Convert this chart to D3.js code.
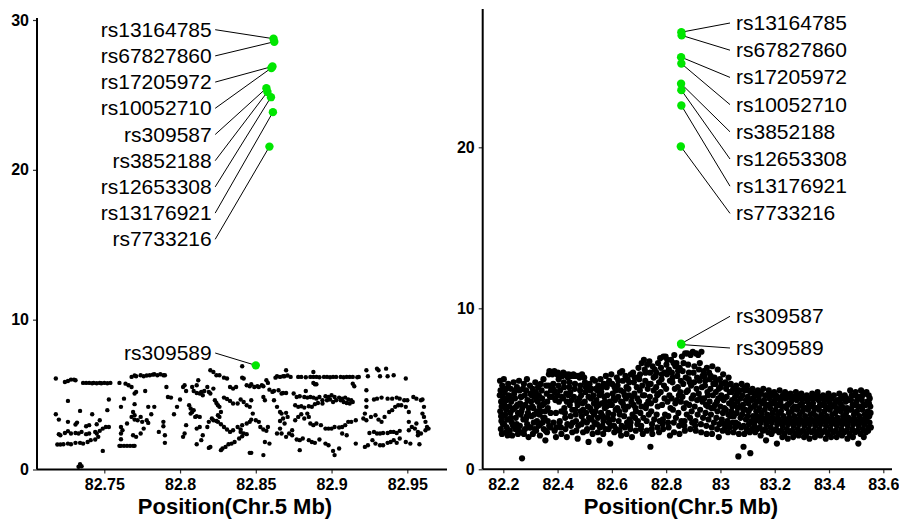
<!DOCTYPE html>
<html>
<head>
<meta charset="utf-8">
<script src="https://cdn.jsdelivr.net/npm/d3@7"></script>
<style>
body { margin: 0; background: #fff; }
text { font-family: "Liberation Sans", Arial, Helvetica, sans-serif; }
</style>
</head>
<body>
<script>
// left panel: all SNPs, [position (Mb), -log10 p]
var leftSnps = [
  [82.718,6.07],[82.724,5.84],[82.726,5.91],[82.728,6.0],[82.730,6.0],[82.731,5.96],
  [82.736,5.78],[82.738,5.78],[82.740,5.78],[82.742,5.76],[82.743,5.78],[82.745,5.76],[82.747,5.78],[82.748,5.76],[82.750,5.78],[82.752,5.76],[82.754,5.78],
  [82.726,4.58],[82.718,3.69],[82.720,3.33],[82.734,3.91],[82.742,3.69],[82.752,3.96],[82.753,4.67],
  [82.720,2.36],[82.721,2.29],[82.724,2.44],[82.726,2.56],[82.728,2.4],[82.731,2.44],[82.733,2.4],[82.735,2.51],[82.738,2.36],[82.740,2.4],[82.744,2.51],[82.745,2.4],[82.747,2.58],[82.749,2.73],[82.751,2.84],[82.753,2.84],
  [82.719,1.67],[82.721,1.67],[82.723,1.69],[82.726,1.73],[82.728,1.69],[82.731,1.78],[82.734,1.78],[82.736,1.73],[82.739,1.84],[82.741,1.96],[82.744,2.0],[82.746,2.18],
  [82.731,3.0],[82.732,3.13],[82.738,2.89],[82.740,2.96],[82.745,3.02],[82.747,3.29],[82.726,3.18],
  [82.734,0.36],[82.735,0.22],[82.733,0.18],[82.749,1.24],
  [82.760,5.78],[82.764,5.73],[82.766,5.62],
  [82.768,6.18],[82.770,6.27],[82.771,6.22],[82.774,6.29],[82.776,6.22],[82.778,6.27],[82.780,6.29],[82.782,6.33],[82.783,6.36],[82.785,6.29],[82.787,6.36],[82.789,6.29],[82.790,6.29],
  [82.761,4.18],[82.763,4.73],[82.765,3.07],[82.768,3.51],[82.770,4.36],[82.770,5.07],[82.768,5.51],
  [82.769,3.84],[82.770,3.62],[82.770,3.33],[82.772,3.29],[82.774,3.51],[82.775,3.18],[82.778,3.29],[82.779,3.11],
  [82.771,5.18],[82.777,5.24],
  [82.761,2.84],[82.762,2.62],[82.761,2.4],[82.761,2.02],
  [82.760,1.58],[82.761,1.58],[82.763,1.58],[82.765,1.58],[82.767,1.58],[82.769,1.58],[82.770,1.58],
  [82.769,2.29],[82.771,2.18],[82.774,2.4],[82.776,2.73],
  [82.779,4.18],[82.783,4.18],[82.781,3.69],
  [82.786,2.51],[82.789,3.18],[82.789,2.89],[82.790,2.29],[82.790,1.78],
  [82.791,5.51],[82.792,4.84],[82.794,4.8],
  [82.796,3.69],[82.798,4.18],[82.800,4.67],[82.802,5.51],[82.803,5.62],[82.804,5.24],
  [82.802,2.18],[82.803,2.4],[82.804,2.96],
  [82.806,4.29],[82.807,4.07],[82.808,3.84],[82.808,5.51],[82.809,5.24],[82.811,5.62],[82.811,5.11],[82.812,5.96],[82.813,5.07],[82.814,5.18],[82.815,4.96],[82.816,5.24],[82.818,5.51],[82.819,5.18],[82.820,5.07],[82.822,5.4],[82.820,6.62],[82.822,6.51],[82.824,6.29],
  [82.807,3.73],[82.809,3.96],[82.810,3.51],[82.811,3.56],[82.813,3.51],
  [82.811,2.73],[82.813,2.84],[82.815,2.29],[82.818,2.84],[82.819,3.18],[82.821,3.4],[82.822,3.29],[82.824,3.24],[82.825,3.18],
  [82.811,1.69],[82.814,1.96],[82.819,1.44],[82.820,1.51],
  [82.823,4.62],[82.824,4.44],[82.825,4.29],[82.826,4.18],[82.827,3.84],[82.825,3.62],[82.826,3.51],
  [82.826,6.29],[82.829,6.13],[82.831,6.07],[82.833,5.51],[82.835,5.4],[82.837,5.51],[82.841,6.89],[82.841,6.13],[82.842,6.07],[82.844,5.62],[82.846,5.56],[82.847,5.69],[82.849,5.51],[82.851,5.56],[82.852,5.51],[82.854,5.62],[82.855,5.56],
  [82.829,4.8],[82.831,4.71],[82.833,4.58],[82.835,4.4],[82.838,4.4],[82.840,4.67],[82.842,4.51],[82.844,4.29],[82.846,4.18],[82.847,4.62],[82.848,3.73],
  [82.827,3.02],[82.829,2.84],[82.831,2.67],[82.833,2.51],[82.835,2.62],[82.838,2.84],[82.840,2.67],[82.841,2.96],[82.844,3.07],[82.846,3.18],[82.847,3.33],
  [82.827,1.29],[82.828,1.4],[82.830,1.51],[82.832,1.69],[82.834,1.73],[82.836,1.84],[82.839,2.07],[82.841,2.22],
  [82.840,2.51],[82.842,2.4],[82.844,2.36],
  [82.846,1.11],[82.847,1.11],[82.855,0.96],
  [82.850,3.29],[82.852,3.18],[82.853,2.84],[82.855,2.67],[82.857,2.58],[82.858,2.84],[82.859,1.73],[82.856,1.84],
  [82.857,5.96],[82.858,5.78],[82.859,5.33],[82.861,5.18],[82.862,5.24],
  [82.855,4.84],[82.856,4.62],
  [82.863,6.13],[82.864,6.22],[82.866,6.18],[82.868,6.22],[82.869,6.22],[82.871,6.27],[82.873,6.18],[82.870,6.62],
  [82.865,5.29],[82.867,5.07],[82.868,5.11],[82.870,5.11],
  [82.862,4.62],[82.864,4.18],[82.866,3.84],[82.867,3.73],[82.868,3.4],[82.866,3.24],[82.869,3.07],[82.870,3.78],[82.871,3.51],
  [82.864,2.4],[82.866,2.73],[82.867,2.4],[82.870,2.18],[82.872,2.4],[82.874,2.62],
  [82.878,6.18],[82.880,6.18],[82.883,6.16],[82.886,6.18],[82.888,6.18],[82.890,6.18],[82.892,6.16],[82.895,6.18],[82.897,6.18],[82.899,6.16],[82.901,6.18],[82.903,6.18],[82.906,6.18],[82.908,6.16],[82.910,6.18],[82.912,6.18],[82.914,6.18],[82.917,6.16],[82.918,6.18],
  [82.888,6.51],[82.888,5.78],[82.889,5.69],[82.890,5.69],
  [82.875,5.07],[82.877,4.84],[82.879,4.89],[82.882,4.84],[82.884,4.8],[82.886,4.84],[82.888,4.8],[82.890,4.73],[82.892,4.84],[82.894,4.62],[82.896,4.89],[82.898,4.84],[82.900,4.96],[82.902,4.84],[82.905,4.8],[82.907,4.73],[82.909,4.8],[82.911,4.67],[82.913,4.62],[82.914,4.51],
  [82.876,4.29],[82.878,4.18],[82.880,4.22],[82.882,4.13],[82.885,4.22],[82.887,4.18],[82.889,4.36],[82.891,4.44],[82.894,4.4],[82.897,4.62],[82.899,4.67],[82.901,4.51],[82.903,4.62],[82.906,4.62],[82.908,4.51],[82.910,4.44],[82.912,4.4],
  [82.876,3.29],[82.878,3.51],[82.880,3.69],[82.882,3.4],[82.884,3.73],[82.886,3.07],[82.888,2.96],[82.890,3.07],[82.893,2.96],[82.896,2.73],[82.898,2.73],[82.900,2.73],[82.902,2.84],[82.905,2.8],[82.907,2.84],[82.909,2.96],[82.911,3.18],[82.913,3.18],[82.916,3.29],
  [82.874,2.29],[82.877,2.0],[82.879,1.96],[82.879,1.29],[82.881,2.07],[82.885,1.96],[82.887,1.84],[82.889,1.78],[82.892,2.0],[82.896,1.73],[82.898,1.62],[82.901,1.24],[82.902,0.96],[82.905,1.4],[82.907,2.4],[82.910,2.29],[82.916,1.73],
  [82.883,5.24],[82.885,3.51],[82.914,5.73],[82.915,5.56],
  [82.923,6.62],[82.924,6.22],[82.930,6.73],[82.931,6.62],[82.936,6.73],[82.932,6.22],[82.937,6.22],[82.941,6.29],[82.949,6.07],
  [82.923,5.29],[82.923,4.62],[82.923,4.18],[82.922,3.73],[82.923,3.29],[82.921,3.4],
  [82.928,4.67],[82.930,4.73],[82.933,4.8],[82.937,4.73],[82.940,4.73],[82.943,4.8],[82.945,4.73],[82.948,4.62],[82.950,4.62],
  [82.926,3.51],[82.929,3.62],[82.931,3.33],[82.933,3.18],[82.935,3.51],[82.938,3.84],[82.940,3.96],[82.942,4.18],[82.944,4.29],[82.946,4.29],[82.949,4.18],[82.951,3.84],
  [82.925,2.44],[82.928,2.51],[82.930,2.4],[82.932,2.4],[82.934,2.44],[82.937,2.44],[82.939,2.51],[82.941,2.51],[82.943,2.44],[82.945,2.58],
  [82.922,1.51],[82.924,1.62],[82.927,1.96],[82.929,1.73],[82.932,1.62],[82.934,1.62],[82.937,1.78],[82.939,1.84],[82.941,1.96],[82.943,1.78],[82.945,2.07],[82.949,1.84],[82.952,1.73],
  [82.954,4.84],[82.956,4.73],[82.959,4.62],[82.960,4.67],[82.961,4.18],[82.960,3.73],[82.961,3.51],[82.962,3.18],[82.963,2.84],[82.964,2.73],[82.962,2.62],[82.959,2.4],[82.957,2.51],[82.955,2.73],[82.953,2.84],[82.951,2.62],[82.951,3.18],[82.956,3.07],[82.957,2.29],[82.958,1.69]
];

// left panel: highlighted SNPs (top to bottom label order)
var leftHitIds = ["rs13164785","rs67827860","rs17205972","rs10052710","rs309587","rs3852188","rs12653308","rs13176921","rs7733216","rs309589"];
var leftHitPos = [82.8617, 82.8622, 82.8610, 82.8603, 82.8570, 82.8577, 82.8600, 82.8613, 82.8590, 82.8500];
var leftHitLogP = [28.75, 28.55, 26.9, 26.8, 25.45, 25.2, 24.85, 23.85, 21.55, 6.95];

// right panel: all SNPs, [position (Mb), -log10 p]
var rightSnps = [
  [82.188,5.5],[82.190,4.9],[82.192,4.2],[82.189,3.6],[82.193,3.0],[82.191,2.5],[82.196,5.2],[82.198,4.5],[82.197,3.3],[82.195,2.2],
  [82.202,5.6],[82.205,4.8],[82.204,4.0],[82.207,3.4],[82.203,2.8],[82.209,2.3],[82.210,5.0],[82.212,4.3],[82.211,3.7],[82.213,2.6],
  [82.218,5.3],[82.220,4.6],[82.222,3.9],[82.219,3.1],[82.224,2.4],[82.227,5.0],[82.229,4.2],[82.226,3.5],[82.231,2.9],[82.233,2.1],
  [82.238,5.4],[82.240,4.7],[82.243,4.4],[82.241,3.8],[82.246,3.2],[82.244,2.5],[82.250,5.1],[82.252,4.0],[82.249,2.8],[82.254,2.2],
  [82.258,5.5],[82.260,4.9],[82.262,4.1],[82.264,3.4],[82.261,2.7],[82.267,4.5],[82.270,3.8],[82.269,2.3],[82.272,5.0],[82.269,0.68],
  [82.276,5.3],[82.279,4.6],[82.281,4.0],[82.283,3.1],[82.280,2.5],[82.287,5.6],[82.289,4.3],[82.291,3.5],[82.288,2.8],[82.293,2.0],
  [82.298,5.2],[82.300,4.7],[82.302,4.2],[82.304,3.3],[82.301,2.6],[82.308,5.0],[82.310,3.8],[82.312,2.9],[82.309,2.2],[82.314,4.5],
  [82.318,5.4],[82.320,4.8],[82.322,4.3],[82.324,3.0],[82.321,2.4],[82.328,5.1],[82.331,4.6],[82.333,3.4],[82.330,2.7],[82.335,2.1],
  [82.338,5.3],[82.341,4.9],[82.343,4.4],[82.340,3.6],[82.345,2.9],[82.348,5.6],[82.350,4.1],[82.352,3.2],[82.349,2.5],[82.355,1.8],
  [82.358,5.2],[82.360,4.7],[82.362,4.2],[82.364,3.0],[82.361,2.3],[82.368,5.9],[82.370,6.1],[82.372,4.5],[82.369,2.7],[82.374,3.5],
  [82.378,6.0],[82.381,5.9],[82.383,5.0],[82.380,4.5],[82.385,2.9],[82.388,6.1],[82.390,4.8],[82.392,4.3],[82.389,2.4],[82.394,2.0],
  [82.398,5.9],[82.401,6.0],[82.403,5.2],[82.400,4.6],[82.405,4.2],[82.408,3.0],[82.410,5.8],[82.412,2.6],[82.409,4.9],[82.414,2.2],
  [82.418,5.8],[82.421,6.0],[82.423,5.4],[82.420,4.4],[82.425,3.8],[82.428,3.2],[82.430,5.9],[82.432,4.7],[82.429,2.5],[82.434,2.0],
  [82.438,5.7],[82.441,5.9],[82.443,5.1],[82.440,4.6],[82.445,4.0],[82.448,3.3],[82.450,5.8],[82.452,4.3],[82.449,2.7],[82.454,2.3],
  [82.458,5.9],[82.461,5.8],[82.463,5.0],[82.460,4.5],[82.465,3.7],[82.468,3.0],[82.470,5.8],[82.472,4.2],[82.469,2.4],[82.474,1.9],
  [82.478,5.8],[82.481,5.7],[82.483,4.9],[82.480,4.4],[82.485,3.6],[82.488,2.8],[82.490,5.9],[82.492,4.1],[82.489,3.3],[82.494,2.3],
  [82.498,5.7],[82.501,5.4],[82.503,4.8],[82.500,4.2],[82.505,3.5],[82.508,2.9],[82.510,5.0],[82.512,3.9],[82.509,2.5],[82.514,1.7],
  [82.518,5.3],[82.521,4.9],[82.523,4.4],[82.520,3.8],[82.525,3.1],[82.528,2.6],[82.530,5.6],[82.532,4.6],[82.529,2.2],[82.534,3.4],
  [82.538,5.5],[82.541,5.0],[82.543,4.3],[82.540,3.6],[82.545,2.8],[82.548,2.3],[82.550,5.2],[82.552,4.0],[82.549,3.2],[82.554,1.8],
  [82.558,5.6],[82.561,4.8],[82.563,4.1],[82.560,3.5],[82.565,2.7],[82.568,2.2],[82.570,5.3],[82.572,4.5],[82.569,3.0],[82.574,3.8],
  [82.578,5.8],[82.581,5.1],[82.583,4.6],[82.580,3.9],[82.585,3.2],[82.588,2.5],[82.590,5.5],[82.592,4.2],[82.589,2.9],[82.594,1.6],
  [82.598,5.9],[82.601,5.3],[82.603,4.7],[82.600,4.0],[82.605,3.4],[82.608,2.7],[82.610,5.1],[82.612,4.3],[82.609,2.3],[82.614,3.7],
  [82.618,5.7],[82.621,5.2],[82.623,4.5],[82.620,3.8],[82.625,3.0],[82.628,2.4],[82.630,6.0],[82.632,4.9],[82.629,3.4],[82.634,2.1],
  [82.638,6.1],[82.641,5.5],[82.643,4.8],[82.640,4.1],[82.645,3.3],[82.648,2.6],[82.650,5.8],[82.652,4.4],[82.649,3.7],[82.654,2.2],
  [82.658,5.6],[82.661,5.0],[82.663,4.6],[82.660,3.9],[82.665,3.1],[82.668,2.5],[82.670,5.9],[82.672,4.2],[82.669,2.9],[82.674,2.0],
  [82.678,6.0],[82.681,5.4],[82.683,4.7],[82.680,4.0],[82.685,3.2],[82.688,2.4],[82.690,5.7],[82.692,5.1],[82.689,3.6],[82.694,2.8],
  [82.698,6.3],[82.701,5.6],[82.703,4.9],[82.700,4.2],[82.705,3.5],[82.708,2.7],[82.710,6.6],[82.712,5.2],[82.709,3.9],[82.714,2.2],
  [82.718,6.8],[82.721,6.2],[82.723,5.5],[82.720,4.6],[82.725,3.8],[82.728,3.0],[82.730,6.5],[82.732,5.0],[82.729,2.4],[82.734,4.2],
  [82.738,6.7],[82.741,6.0],[82.743,5.3],[82.740,4.5],[82.745,3.6],[82.748,2.8],[82.750,6.4],[82.742,1.4],[82.749,2.2],[82.754,4.9],
  [82.758,6.2],[82.761,5.8],[82.763,5.1],[82.760,4.3],[82.765,3.4],[82.768,2.6],[82.770,6.6],[82.772,4.7],[82.769,3.9],[82.774,2.3],
  [82.778,6.9],[82.781,6.3],[82.783,5.6],[82.780,4.8],[82.785,4.0],[82.788,3.1],[82.790,7.0],[82.792,5.2],[82.789,2.5],[82.794,6.0],
  [82.798,7.0],[82.801,6.5],[82.803,5.9],[82.800,5.0],[82.805,4.2],[82.808,3.3],[82.810,6.2],[82.812,4.6],[82.809,2.6],[82.814,2.1],
  [82.818,6.8],[82.821,6.0],[82.823,5.4],[82.820,4.4],[82.825,3.7],[82.828,2.9],[82.830,7.1],[82.832,5.0],[82.829,2.3],[82.834,6.4],
  [82.838,6.6],[82.841,5.8],[82.843,5.1],[82.840,4.3],[82.845,3.5],[82.848,2.7],[82.850,6.3],[82.852,4.8],[82.849,2.2],[82.854,5.5],
  [82.858,7.0],[82.861,6.1],[82.863,5.3],[82.860,4.5],[82.865,3.8],[82.868,3.0],[82.870,7.2],[82.872,5.7],[82.869,2.4],[82.874,4.1],
  [82.878,7.2],[82.881,6.5],[82.883,5.6],[82.880,4.9],[82.885,4.0],[82.888,3.2],[82.890,7.1],[82.892,5.2],[82.889,2.5],[82.894,3.6],
  [82.898,7.3],[82.901,6.0],[82.903,5.4],[82.900,4.6],[82.905,3.9],[82.908,3.0],[82.910,7.2],[82.912,5.0],[82.909,2.4],[82.914,4.3],
  [82.918,7.1],[82.921,6.2],[82.923,5.5],[82.920,4.7],[82.925,3.7],[82.928,2.8],[82.930,7.3],[82.932,5.1],[82.929,2.3],[82.934,4.2],
  [82.938,6.1],[82.941,5.8],[82.943,5.2],[82.940,4.4],[82.945,3.5],[82.948,2.7],[82.950,6.3],[82.952,4.8],[82.949,2.2],[82.954,3.9],
  [82.958,6.0],[82.961,5.6],[82.963,5.0],[82.960,4.2],[82.965,3.4],[82.968,2.6],[82.970,6.4],[82.972,4.6],[82.969,2.2],[82.974,3.8],
  [82.978,5.7],[82.981,5.3],[82.983,4.8],[82.980,4.0],[82.985,3.2],[82.988,2.5],[82.990,6.2],[82.992,4.4],[82.989,3.6],[82.994,2.0],
  [82.998,5.6],[83.001,5.1],[83.003,4.6],[83.000,3.9],[83.005,3.1],[83.008,2.4],[83.010,5.9],[83.012,4.3],[83.009,3.5],[83.014,2.8],
  [83.018,5.4],[83.021,5.0],[83.023,4.5],[83.020,3.7],[83.025,3.0],[83.028,2.3],[83.030,5.7],[83.032,4.1],[83.029,3.4],[83.034,2.6],
  [83.038,5.3],[83.041,4.8],[83.043,4.3],[83.040,3.6],[83.045,2.9],[83.048,2.3],[83.050,5.0],[83.052,4.0],[83.049,3.3],[83.054,2.6],
  [83.058,5.2],[83.061,4.7],[83.063,4.2],[83.060,3.5],[83.065,2.8],[83.068,2.2],[83.070,4.9],[83.072,3.9],[83.066,0.8],[83.074,3.2],
  [83.078,5.3],[83.081,4.6],[83.083,4.0],[83.080,3.4],[83.085,2.7],[83.088,2.2],[83.090,4.9],[83.092,3.7],[83.085,1.4],[83.094,3.1],
  [83.098,5.2],[83.101,4.5],[83.103,4.1],[83.100,3.3],[83.105,2.8],[83.108,2.3],[83.110,4.8],[83.112,3.8],[83.110,1.0],[83.114,3.0],
  [83.118,5.0],[83.121,4.4],[83.123,3.9],[83.120,3.3],[83.125,2.7],[83.128,2.3],[83.130,4.7],[83.132,3.6],[83.129,3.0],[83.134,4.2],
  [83.138,4.9],[83.141,4.5],[83.143,3.8],[83.140,3.2],[83.145,2.6],[83.148,2.1],[83.150,4.7],[83.152,3.5],[83.149,2.9],[83.154,4.1],
  [83.158,5.0],[83.161,4.3],[83.163,3.7],[83.160,3.1],[83.165,2.5],[83.168,1.8],[83.170,4.6],[83.172,3.4],[83.169,2.8],[83.174,4.0],
  [83.178,4.9],[83.181,4.4],[83.183,3.8],[83.180,3.2],[83.185,2.6],[83.188,2.2],[83.190,4.6],[83.192,3.5],[83.189,2.9],[83.194,4.1],
  [83.198,4.8],[83.201,4.3],[83.203,3.7],[83.200,3.1],[83.205,2.5],[83.208,1.6],[83.210,4.5],[83.212,3.4],[83.209,2.8],[83.214,4.0],
  [83.218,4.9],[83.221,4.2],[83.223,3.6],[83.220,3.0],[83.225,2.4],[83.228,2.0],[83.230,4.6],[83.232,3.3],[83.229,2.7],[83.234,3.9],
  [83.238,4.8],[83.241,4.4],[83.243,3.8],[83.240,3.1],[83.245,2.5],[83.248,1.9],[83.250,4.5],[83.252,3.5],[83.249,2.8],[83.254,4.1],
  [83.258,4.7],[83.261,4.2],[83.263,3.6],[83.260,3.0],[83.265,2.4],[83.268,2.0],[83.270,4.5],[83.272,3.3],[83.269,2.7],[83.274,3.9],
  [83.278,4.8],[83.281,4.3],[83.283,3.7],[83.280,3.1],[83.285,2.5],[83.288,2.1],[83.290,4.4],[83.292,3.4],[83.289,2.8],[83.294,4.0],
  [83.298,4.7],[83.301,4.1],[83.303,3.6],[83.300,3.0],[83.305,2.4],[83.308,2.0],[83.310,4.4],[83.312,3.3],[83.309,2.7],[83.314,3.8],
  [83.318,4.6],[83.321,4.2],[83.323,3.7],[83.320,3.1],[83.325,2.5],[83.328,1.9],[83.330,4.4],[83.332,3.4],[83.329,2.8],[83.334,3.9],
  [83.338,4.7],[83.341,4.1],[83.343,3.5],[83.340,3.0],[83.345,2.4],[83.348,2.0],[83.350,4.5],[83.352,3.3],[83.349,2.7],[83.354,3.8],
  [83.358,4.8],[83.361,4.3],[83.363,3.7],[83.360,3.1],[83.365,2.5],[83.368,2.1],[83.370,4.4],[83.372,3.4],[83.369,2.8],[83.374,4.0],
  [83.378,4.6],[83.381,4.1],[83.383,3.6],[83.380,3.0],[83.385,2.4],[83.388,1.9],[83.390,4.5],[83.392,3.3],[83.389,2.7],[83.394,3.8],
  [83.398,4.7],[83.401,4.2],[83.403,3.7],[83.400,3.1],[83.405,2.5],[83.408,2.0],[83.410,4.4],[83.412,3.4],[83.409,2.8],[83.414,3.9],
  [83.418,4.6],[83.421,4.0],[83.423,3.5],[83.420,2.9],[83.425,2.4],[83.428,2.0],[83.430,4.3],[83.432,3.2],[83.429,2.7],[83.434,3.7],
  [83.438,4.7],[83.441,4.1],[83.443,3.6],[83.440,3.0],[83.445,2.5],[83.448,2.1],[83.450,4.4],[83.452,3.3],[83.449,2.8],[83.454,3.8],
  [83.458,4.6],[83.461,4.2],[83.463,3.5],[83.460,2.9],[83.465,2.4],[83.468,1.9],[83.470,4.3],[83.472,3.2],[83.469,2.7],[83.474,3.7],
  [83.478,4.9],[83.481,4.3],[83.483,3.7],[83.480,3.1],[83.485,2.5],[83.488,2.0],[83.490,4.6],[83.492,3.4],[83.489,2.8],[83.494,4.0],
  [83.498,4.8],[83.501,4.2],[83.503,3.6],[83.500,3.0],[83.505,2.4],[83.508,1.6],[83.510,4.5],[83.512,3.3],[83.509,2.7],[83.514,3.9],
  [83.518,4.9],[83.521,4.3],[83.523,3.7],[83.520,3.1],[83.525,2.5],[83.528,2.0],[83.530,4.7],[83.532,3.4],[83.529,2.8],[83.534,4.0],
  [83.538,4.8],[83.541,4.2],[83.543,3.6],[83.540,3.0],[83.545,2.6],[83.548,3.3],[83.550,4.4],[83.552,3.9],[83.549,2.9],[83.544,2.4],
  // infill read from the dense body of the cloud
  [82.194,3.9],[82.187,4.6],[82.199,2.8],[82.192,3.3],
  [82.214,3.1],[82.206,4.4],[82.216,2.1],[82.208,3.8],
  [82.234,3.7],[82.224,4.5],[82.236,2.7],[82.228,3.2],
  [82.254,3.5],[82.244,4.9],[82.256,2.5],[82.248,3.9],
  [82.274,3.1],[82.264,4.5],[82.276,2.2],[82.267,3.6],
  [82.294,3.8],[82.284,4.9],[82.296,2.6],[82.287,3.3],
  [82.314,3.4],[82.304,4.6],[82.316,2.5],[82.307,3.9],
  [82.334,3.9],[82.324,3.6],[82.336,2.8],[82.327,4.2],
  [82.354,3.6],[82.344,4.0],[82.356,2.4],[82.347,3.2],
  [82.374,2.6],[82.364,3.8],[82.376,4.9],[82.367,5.2],
  [82.394,3.5],[82.384,5.3],[82.396,2.6],[82.387,4.9],
  [82.414,3.6],[82.404,5.6],[82.416,4.5],[82.407,2.9],
  [82.434,4.2],[82.424,5.1],[82.436,2.8],[82.427,3.5],
  [82.454,3.7],[82.444,5.4],[82.456,2.9],[82.447,4.8],
  [82.474,4.0],[82.464,5.3],[82.476,2.7],[82.467,3.4],
  [82.494,3.7],[82.484,5.2],[82.496,3.0],[82.487,4.6],
  [82.514,4.5],[82.504,5.1],[82.516,3.2],[82.507,2.4],
  [82.534,4.1],[82.524,5.0],[82.536,2.9],[82.527,3.6],
  [82.554,4.6],[82.544,3.9],[82.556,2.6],[82.547,4.9],
  [82.574,4.2],[82.564,5.1],[82.576,2.5],[82.567,3.3],
  [82.594,4.0],[82.584,5.3],[82.596,2.7],[82.587,3.5],
  [82.614,4.9],[82.604,3.1],[82.616,2.5],[82.607,4.4],
  [82.634,4.2],[82.624,5.5],[82.636,2.7],[82.627,3.6],
  [82.654,5.1],[82.644,3.9],[82.656,2.9],[82.647,4.6],
  [82.674,4.5],[82.664,5.4],[82.676,3.4],[82.667,2.7],
  [82.694,4.4],[82.684,5.7],[82.696,3.0],[82.687,3.8],
  [82.714,4.6],[82.704,5.9],[82.716,3.2],[82.707,2.5],
  [82.734,5.3],[82.724,6.0],[82.736,3.4],[82.727,4.0],
  [82.754,5.7],[82.744,4.1],[82.756,3.1],[82.747,2.5],
  [82.774,5.4],[82.764,6.0],[82.776,3.0],[82.767,4.6],
  [82.794,4.4],[82.784,5.9],[82.796,3.4],[82.787,2.8],
  [82.814,5.5],[82.804,6.8],[82.816,3.8],[82.807,2.9],
  [82.834,4.1],[82.824,5.7],[82.836,3.2],[82.827,6.6],
  [82.854,4.2],[82.844,6.1],[82.856,3.0],[82.847,4.6],
  [82.874,4.8],[82.864,6.6],[82.876,3.4],[82.867,2.7],
  [82.894,4.4],[82.884,6.0],[82.896,2.9],[82.887,5.4],
  [82.914,5.7],[82.904,6.4],[82.916,3.4],[82.907,2.7],
  [82.934,5.8],[82.924,6.6],[82.936,3.2],[82.927,4.4],
  [82.954,4.6],[82.944,5.5],[82.956,3.1],[82.947,4.0],
  [82.974,5.3],[82.964,5.8],[82.976,2.9],[82.967,3.8],
  [82.994,5.0],[82.984,5.5],[82.996,2.8],[82.987,4.2],
  [83.014,3.8],[83.004,5.3],[83.016,2.5],[83.007,4.4],
  [83.034,4.8],[83.024,5.2],[83.036,3.3],[83.027,2.8],
  [83.054,4.5],[83.044,3.9],[83.056,2.9],[83.047,5.0],
  [83.074,4.4],[83.064,3.8],[83.076,2.6],[83.067,4.9],
  [83.094,4.3],[83.084,3.7],[83.096,2.5],[83.087,5.0],
  [83.114,4.3],[83.104,3.6],[83.116,2.5],[83.107,4.9],
  [83.134,3.3],[83.124,4.7],[83.136,2.5],[83.127,4.0],
  [83.154,3.2],[83.144,4.8],[83.156,2.4],[83.147,4.2],
  [83.174,3.1],[83.164,4.6],[83.176,2.3],[83.167,4.0],
  [83.194,3.2],[83.184,4.7],[83.196,2.4],[83.187,4.1],
  [83.214,3.1],[83.204,4.6],[83.216,2.3],[83.207,4.0],
  [83.234,3.0],[83.224,4.4],[83.236,2.2],[83.227,3.9],
  [83.254,3.2],[83.244,4.6],[83.256,2.3],[83.247,4.0],
  [83.274,3.0],[83.264,4.4],[83.276,2.2],[83.267,3.8],
  [83.294,3.1],[83.284,4.6],[83.296,2.3],[83.287,3.9],
  [83.314,3.0],[83.304,4.4],[83.316,2.2],[83.307,3.8],
  [83.334,3.1],[83.324,4.4],[83.336,2.3],[83.327,4.0],
  [83.354,3.0],[83.344,4.4],[83.356,2.2],[83.347,3.8],
  [83.374,3.2],[83.364,4.5],[83.376,2.3],[83.367,4.0],
  [83.394,3.0],[83.384,4.3],[83.396,2.2],[83.387,3.9],
  [83.414,3.1],[83.404,4.5],[83.416,2.3],[83.407,4.0],
  [83.434,2.9],[83.424,4.2],[83.436,2.2],[83.427,3.8],
  [83.454,3.1],[83.444,4.4],[83.456,2.3],[83.447,3.9],
  [83.474,3.0],[83.464,4.4],[83.476,2.2],[83.467,3.8],
  [83.494,3.1],[83.484,4.6],[83.496,2.3],[83.487,4.0],
  [83.514,3.0],[83.504,4.5],[83.516,2.2],[83.507,3.9],
  [83.534,3.1],[83.524,4.6],[83.536,2.3],[83.527,4.0],
  [83.553,3.5],[83.546,4.6],[83.554,2.6],[83.547,4.1]
];

// right panel: highlighted SNPs (top to bottom label order)
var rightHitIds = ["rs13164785","rs67827860","rs17205972","rs10052710","rs3852188","rs12653308","rs13176921","rs7733216","rs309587","rs309589"];
var rightHitPos = [82.856, 82.857, 82.855, 82.856, 82.855, 82.856, 82.856, 82.854, 82.855, 82.856];
var rightHitLogP = [27.15, 26.95, 25.6, 25.2, 23.95, 23.55, 22.6, 20.05, 7.8, 7.75];

var leftXTicks = [82.75, 82.8, 82.85, 82.9, 82.95];
var leftYTicks = [0, 10, 20, 30];
var rightXTicks = [82.2, 82.4, 82.6, 82.8, 83, 83.2, 83.4, 83.6];
var rightYTicks = [0, 10, 20];

var width = 899, height = 519;
var svg = d3.select("body").append("svg")
  .attr("width", width)
  .attr("height", height);

function drawPanel(cfg) {
  var x = d3.scaleLinear().domain(cfg.xd).range(cfg.xr);
  var y = d3.scaleLinear().domain(cfg.yd).range(cfg.yr);
  var g = svg.append("g");

  // axes
  var xa = g.append("g")
    .attr("transform", "translate(0," + cfg.bottom + ")")
    .call(d3.axisBottom(x).tickValues(cfg.xt).tickSize(4).tickSizeOuter(0).tickPadding(5).tickFormat(String));
  var ya = g.append("g")
    .attr("transform", "translate(" + cfg.left + ",0)")
    .call(d3.axisLeft(y).tickValues(cfg.yt).tickSize(4).tickSizeOuter(0).tickPadding(4).tickFormat(String));
  [xa, ya].forEach(function(a) {
    a.select(".domain").remove();
    a.selectAll("line").attr("stroke", "#333").attr("stroke-width", 1.2);
    a.selectAll("text").attr("font-size", 16).attr("font-weight", "bold").attr("fill", "#000")
      .attr("font-family", '"Liberation Sans", Arial, sans-serif');
  });
  g.append("line").attr("x1", cfg.left).attr("x2", cfg.right).attr("y1", cfg.bottom).attr("y2", cfg.bottom)
    .attr("stroke", "#000").attr("stroke-width", 2);
  g.append("line").attr("x1", cfg.left).attr("x2", cfg.left).attr("y1", cfg.top).attr("y2", cfg.bottom)
    .attr("stroke", "#000").attr("stroke-width", 2);

  g.append("text")
    .attr("x", cfg.titleX).attr("y", 514)
    .attr("text-anchor", "middle")
    .attr("font-size", 22).attr("font-weight", "bold")
    .text("Position(Chr.5 Mb)");

  // all snps
  g.append("g").selectAll("circle")
    .data(cfg.snps)
    .enter().append("circle")
      .attr("cx", function(d) { return x(d[0]); })
      .attr("cy", function(d) { return y(d[1]); })
      .attr("r", cfg.r)
      .attr("fill", "#000");

  // label segments
  var hits = cfg.ids.map(function(id, i) {
    return {id: id, pos: cfg.pos[i], logp: cfg.logp[i], ly: cfg.labelY[i]};
  });
  g.append("g").selectAll("line")
    .data(hits)
    .enter().append("line")
      .attr("x1", cfg.labelX + cfg.segGap)
      .attr("y1", function(d) { return d.ly - 7; })
      .attr("x2", function(d) { return x(d.pos); })
      .attr("y2", function(d) { return y(d.logp); })
      .attr("stroke", "#000")
      .attr("stroke-width", 1);

  g.append("g").selectAll("circle")
    .data(hits)
    .enter().append("circle")
      .attr("cx", function(d) { return x(d.pos); })
      .attr("cy", function(d) { return y(d.logp); })
      .attr("r", 4.2)
      .attr("fill", "#00e600");

  g.append("g").selectAll("text")
    .data(hits)
    .enter().append("text")
      .attr("x", cfg.labelX)
      .attr("y", function(d) { return d.ly; })
      .attr("text-anchor", cfg.anchor)
      .attr("font-size", 21)
      .text(function(d) { return d.id; });
}

// label baselines, stacked like the repelled labels
var leftLabelY = d3.range(9).map(function(i) { return 36.7 + 26.2 * i; }).concat([360]);
var rightLabelY = d3.range(8).map(function(i) { return 30 + 27.2 * i; }).concat([323.3, 355]);

drawPanel({
  xd: [82.75, 82.95], xr: [104.3, 407.3],
  yd: [0, 30], yr: [469.5, 20],
  left: 37, right: 447, top: 18, bottom: 469.5,
  xt: leftXTicks, yt: leftYTicks,
  titleX: 235,
  snps: leftSnps, r: 2.2,
  ids: leftHitIds, pos: leftHitPos, logp: leftHitLogP,
  labelX: 211.7, segGap: 3.5, anchor: "end", labelY: leftLabelY
});

drawPanel({
  xd: [82.2, 83.6], xr: [503.3, 883.3],
  yd: [0, 20], yr: [469.3, 147.3],
  left: 482.7, right: 892, top: 9, bottom: 469.3,
  xt: rightXTicks, yt: rightYTicks,
  titleX: 681,
  snps: rightSnps, r: 3.1,
  ids: rightHitIds, pos: rightHitPos, logp: rightHitLogP,
  labelX: 736, segGap: -6, anchor: "start", labelY: rightLabelY
});
</script>
</body>
</html>
